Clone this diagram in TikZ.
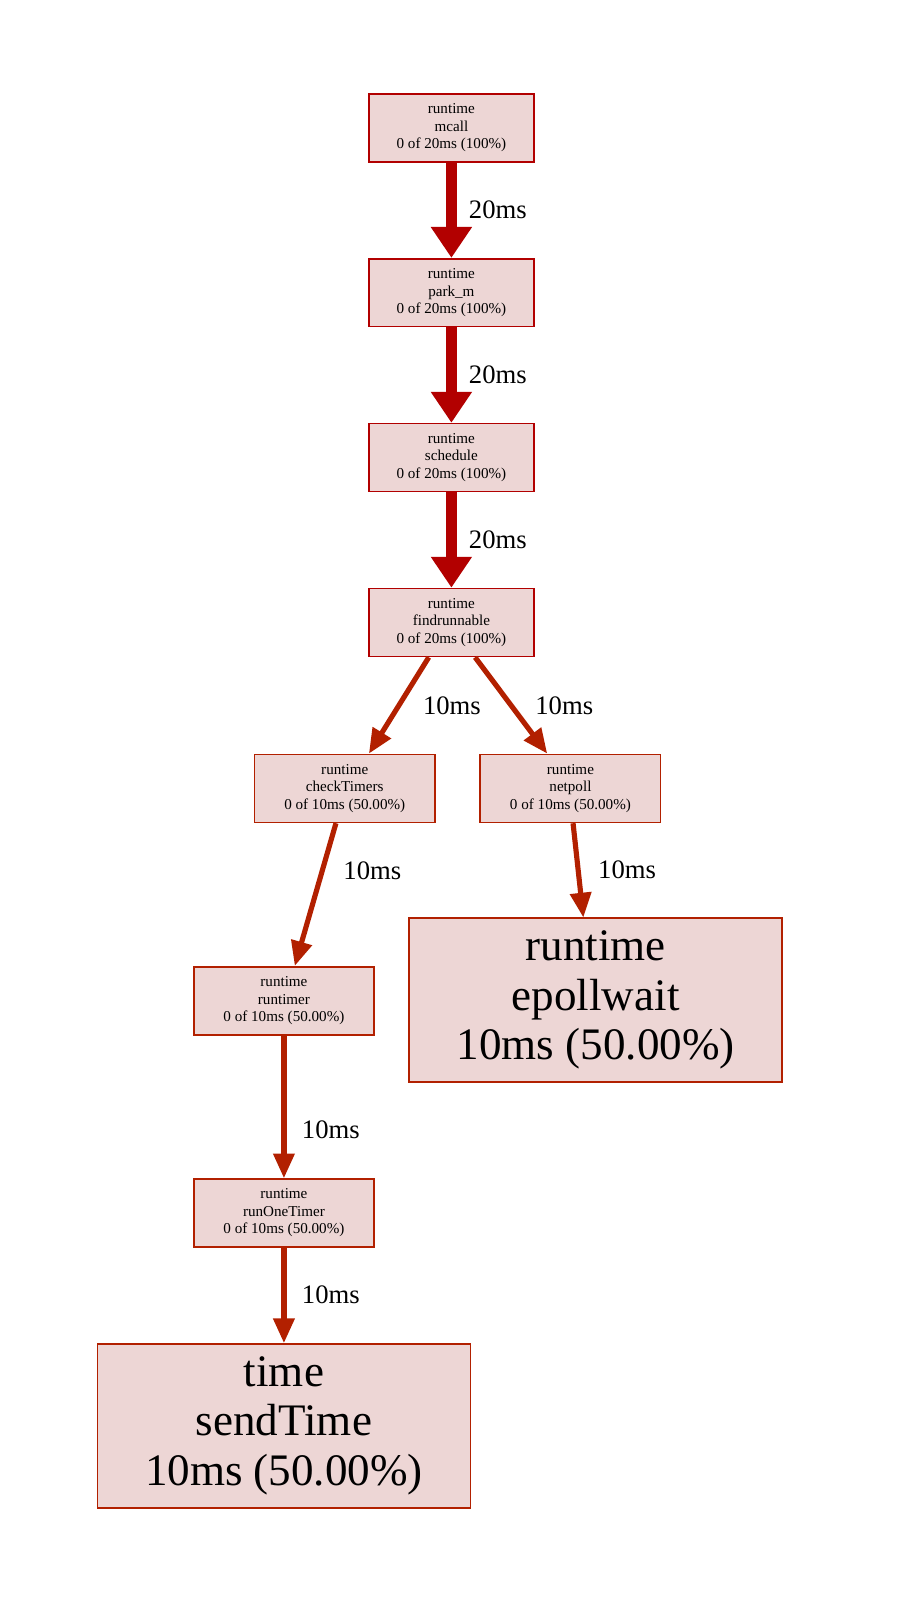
\documentclass[tikz,border=0pt]{standalone}
\usepackage{fontspec}
\setmainfont{Liberation Serif}
\usetikzlibrary{arrows.meta,positioning,calc}
\definecolor{nodefill}{HTML}{EDD6D5}
\definecolor{hot}{HTML}{B20000}
\definecolor{warm}{HTML}{B22000}

\begin{document}
\begin{tikzpicture}[x=0.773pt,y=-0.773pt]
	\tikzstyle{block} = [draw=hot,rectangle,fill=nodefill,line width=1.2pt,align=center,minimum width=123.7pt,minimum height=51pt,inner sep=0pt,font=\fontsize{11.34}{13.14}\selectfont]
	\tikzstyle{block2} = [block,draw=warm,minimum width=135.3pt]
	\tikzstyle{block1} = [block2,minimum width=279.8pt,minimum height=122.9pt,font=\fontsize{33.8}{37.1}\selectfont]
	\tikzstyle{edge20} = [draw=hot,line width=7.73pt,-{Triangle[length=23.2pt,width=29.4pt]}]
	\tikzstyle{edge10} = [draw=warm,line width=3.86pt,-{Triangle[length=18.55pt,width=15.46pt]}]
	\tikzstyle{lbl} = [anchor=west,inner sep=0pt,font=\fontsize{20}{22.7}\selectfont,text=black]

	\node[block] (mcall) at (438,124) {runtime\\mcall\\0 of 20ms (100\%)};
	\node[block] (parkm) at (438,284) {runtime\\park\_m\\0 of 20ms (100\%)};
	\node[block] (sched) at (438,444) {runtime\\schedule\\0 of 20ms (100\%)};
	\node[block] (findrun) at (438,604) {runtime\\findrunnable\\0 of 20ms (100\%)};
	\node[block2] (chkT) at (334.5,765) {runtime\\checkTimers\\0 of 10ms (50.00\%)};
	\node[block2] (netpoll) at (553.5,765) {runtime\\netpoll\\0 of 10ms (50.00\%)};
	\node[block2] (runtimer) at (275.5,971) {runtime\\runtimer\\0 of 10ms (50.00\%)};
	\node[block1] (epoll) at (578,970.5) {runtime\\epollwait\\10ms (50.00\%)};
	\node[block2] (runone) at (275.5,1177) {runtime\\runOneTimer\\0 of 10ms (50.00\%)};
	\node[block1] (sendT) at (275.5,1383.5) {time\\sendTime\\10ms (50.00\%)};

	% hot path
	\draw[edge20] (mcall) -- (parkm) node[lbl,midway,xshift=9.28pt] {20ms};
	\draw[edge20] (parkm) -- (sched) node[lbl,midway,xshift=9.28pt] {20ms};
	\draw[edge20] (sched) -- (findrun) node[lbl,midway,xshift=9.28pt] {20ms};

	% split
	\draw[edge10] ([xshift=-17pt]findrun.south) -- ([xshift=18.14pt]chkT.north) node[lbl,midway,xshift=16.23pt] {10ms};
	\draw[edge10] ([xshift=17.78pt]findrun.south) -- ([xshift=-17.42pt]netpoll.north) node[lbl,midway,xshift=16.23pt] {10ms};
	\draw[edge10] ([xshift=-6.6pt]chkT.south) -- ([xshift=8.14pt]runtimer.north) node[lbl,pos=0.33,xshift=13.91pt] {10ms};
	\draw[edge10] ([xshift=1.96pt]netpoll.south) -- ([xshift=-9.28pt]epoll.north) node[lbl,pos=0.49,xshift=13.14pt] {10ms};
	\draw[edge10] (runtimer) -- (runone) node[lbl,pos=0.66,xshift=11.59pt] {10ms};
	\draw[edge10] (runone) -- (sendT) node[lbl,pos=0.49,xshift=11.59pt] {10ms};

	\pgfresetboundingbox
	\useasboundingbox (0,0) rectangle (872.3,1568);
\end{tikzpicture}
\end{document}
